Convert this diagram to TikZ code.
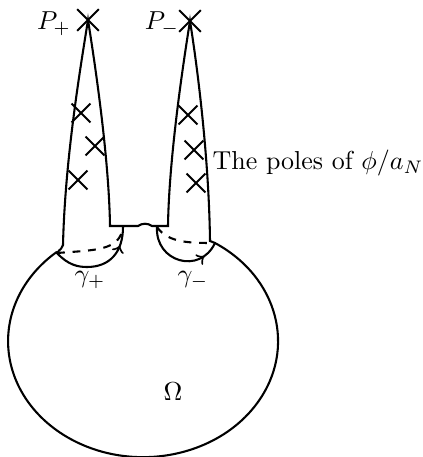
\documentclass[tikz,border=0pt]{standalone}
\usepackage{amsmath}
\usepackage{tikz}
\usetikzlibrary{shapes.misc,decorations.markings}

\begin{document}
\begin{tikzpicture}[x=0.385pt, y=0.385pt,
    pole/.style={draw, cross out, thick, inner sep=0pt, minimum size=6.5pt},
    tippole/.style={pole, minimum size=7.5pt},
    loopy/.style={thick, postaction={decorate},
      decoration={markings, mark=at position #1 with {\arrow{>}}}}]
  \useasboundingbox (0,0) rectangle (423,457);
  % the domain with its two horns
  \draw[thick] (57,204) .. controls (60,208) and (63,209) .. (63,212)
    .. controls (65,297) and (80,387) .. (88,437)
    .. controls (96,387) and (109,297) .. (110,231)
    -- (138,231) .. controls (142,234) and (148,234) .. (152,231) -- (168,231)
    .. controls (169,297) and (182,386) .. (190,436)
    .. controls (198,386) and (209,297) .. (210,216)
    -- (215,214)
    arc[start angle=57.8, end angle=-230, x radius=135, y radius=116] -- cycle;
  % loops round the horns
  \draw[loopy=0.8] (57,204) .. controls (68,192) and (78,190) .. (87,190)
    .. controls (110,190) and (123,205) .. (123,230);
  \draw[thick, dashed] (57,204) .. controls (95,207) and (120,206) .. (123,230);
  \draw[loopy=0.8] (157,230) .. controls (155,195) and (200,182) .. (215,214);
  \draw[thick, dashed] (157,230) .. controls (168,214) and (190,214) .. (215,214);
  % poles
  \node[tippole] (tipplus) at (88,437) {};
  \node[tippole] (tipminus) at (190,436) {};
  \node[pole] (pa) at (81,344) {};
  \node[pole] (pb) at (95,311) {};
  \node[pole] (pc) at (78,277) {};
  \node[pole] (pd) at (188,342) {};
  \node[pole] (pe) at (194,307) {};
  \node[pole] (pf) at (196,274) {};
  % labels
  \node (Pplus) at (54,433) {$P_+$};
  \node (Pminus) at (162,433) {$P_-$};
  \node (poles) at (318,294) {The poles of $\phi/a_N$};
  \node (gplus) at (90,177) {$\gamma_+$};
  \node (gminus) at (193,177) {$\gamma_-$};
  \node (omega) at (173,65) {$\Omega$};
\end{tikzpicture}
\end{document}
